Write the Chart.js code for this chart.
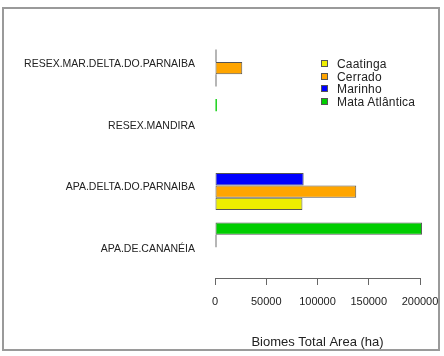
<!DOCTYPE html>
<html>
<head>
<meta charset="utf-8">
<script src="https://cdn.jsdelivr.net/npm/chart.js@4/dist/chart.umd.min.js"></script>
<style>
body{margin:0;background:#fff;}
#wrap{position:relative;width:444px;height:356px;overflow:hidden;}
#frame{position:absolute;left:2px;top:7px;width:438px;height:344px;box-sizing:border-box;border:2px solid #9a9a9a;pointer-events:none;}
#legend{position:absolute;left:321px;top:58px;font:12px "Liberation Sans",Arial,sans-serif;color:#222;letter-spacing:0.2px;}
#legend .item{height:12.5px;line-height:12.5px;white-space:nowrap;}
#legend .box{display:inline-block;width:5px;height:5px;border:1px solid #555;margin-right:9px;vertical-align:1px;}
</style>
</head>
<body>
<div id="wrap">
  <canvas id="stage" width="444" height="356"></canvas>
  <div id="frame"></div>
  <div id="legend"></div>
</div>
<script>
//カテゴリ(上から下の順)
var CATEGORIES = ['RESEX.MAR.DELTA.DO.PARNAIBA', 'RESEX.MANDIRA', 'APA.DELTA.DO.PARNAIBA', 'APA.DE.CANANÉIA'];
//系列名と値 (null = 棒なし, 0 = 線だけ)
var SERIES_NAMES = ['Caatinga', 'Cerrado', 'Marinho', 'Mata Atlântica'];
var CAATINGA = [0, null, 85300, null];
var CERRADO = [26600, null, 137800, null];
var MARINHO = [0, null, 86500, 0];
var MATA_ATLANTICA = [null, 1800, null, 202000];
var SERIES_VALUES = [CAATINGA, CERRADO, MARINHO, MATA_ATLANTICA];
//x軸目盛り
var X_TICKS = [0, 50000, 100000, 150000, 200000];
var X_TITLE = 'Biomes Total Area (ha)';

var COLORS = ['#eeee00', '#ffa500', '#0000ff', '#00cd00'];
var FONT = '"Liberation Sans", Arial, sans-serif';

//凡例(HTML)
var lg = document.getElementById('legend');
for (let i = 0; i < SERIES_NAMES.length; i++){
  lg.innerHTML += '<div class="item"><span class="box" style="background:' + COLORS[i] + '"></span>' + SERIES_NAMES[i] + '</div>';
}

//棒グラフ: 上から Mata Atlântica → Caatinga の順に並べる
var datasets = [];
for (let i = SERIES_NAMES.length - 1; i >= 0; i--){
  let col = COLORS[i];
  datasets.push({
    label: SERIES_NAMES[i],
    data: SERIES_VALUES[i],
    backgroundColor: c => c.raw === 0 ? '#6e6e6e' : col,
    borderColor: '#555',
    borderWidth: c => c.raw < 5000 ? 0 : 1,//細い棒は枠なし
    borderSkipped: false,
    minBarLength: 1.5,
    categoryPercentage: 0.8,
    barPercentage: 1.0,
    clip: false
  });
}

new Chart(document.getElementById('stage'), {
  type: 'bar',
  data: { labels: CATEGORIES, datasets: datasets },
  options: {
    responsive: false,
    animation: false,
    indexAxis: 'y',
    layout: { padding: { top: 31, right: 24, bottom: 0, left: 0 } },
    plugins: { legend: { display: false }, tooltip: { enabled: false } },
    scales: {
      x: {
        min: 0,
        max: 200000,
        afterBuildTicks: s => { s.ticks = X_TICKS.map(v => ({ value: v })); },
        afterFit: s => { s.height = 78; s.paddingRight = 0; s.paddingLeft = 0; },
        ticks: {
          callback: v => String(v),
          font: { family: FONT, size: 11 },
          color: '#222',
          padding: 10,
          maxRotation: 0,
          autoSkip: false
        },
        grid: { drawOnChartArea: false, drawTicks: true, tickLength: 7, color: '#666', lineWidth: 1 },
        border: { display: true, color: '#666', width: 1 },
        title: { display: true, text: X_TITLE, font: { family: FONT, size: 13 }, color: '#222', padding: { top: 0, bottom: 6 } }
      },
      y: {
        afterFit: s => { s.width = 215; },
        ticks: { font: { family: FONT, size: 10.5 }, color: '#222', padding: 20, labelOffset: 2 },
        grid: { display: false, drawTicks: false },
        border: { display: false }
      }
    }
  }
});
</script>
</body>
</html>
